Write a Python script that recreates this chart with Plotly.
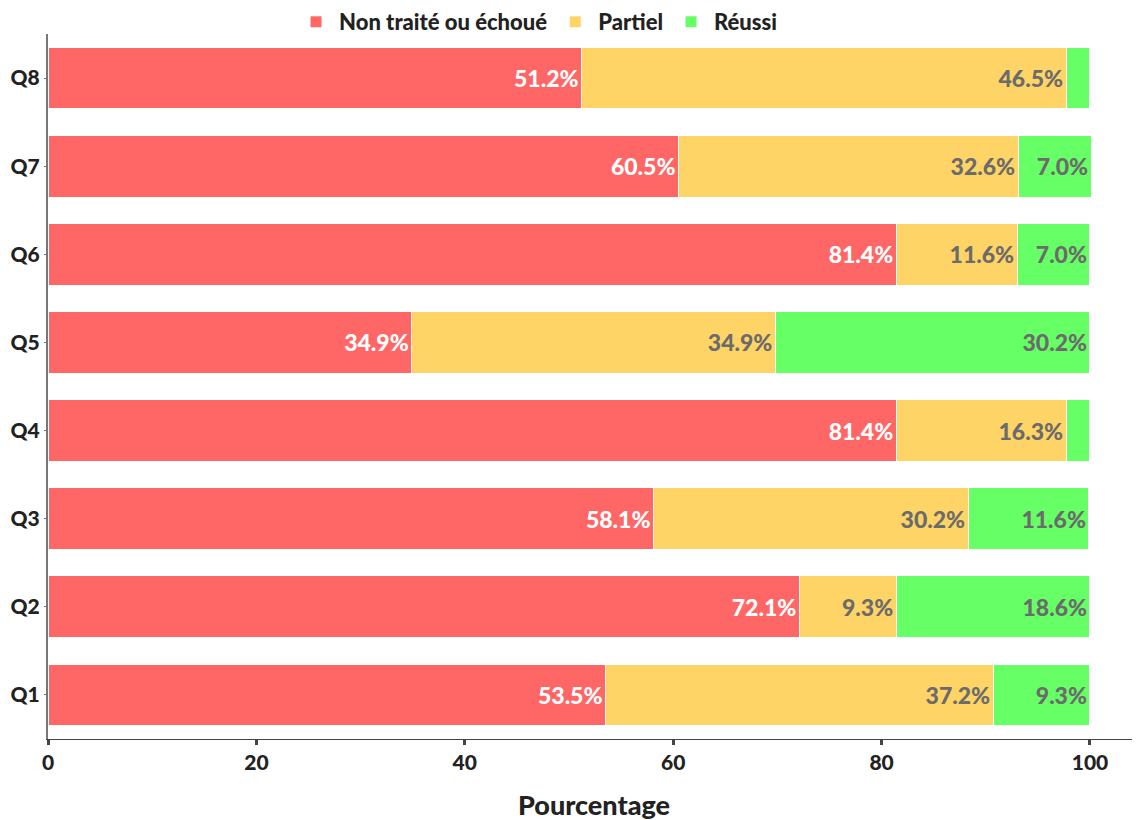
import plotly.graph_objects as go

questions = ["Q1", "Q2", "Q3", "Q4", "Q5", "Q6", "Q7", "Q8"]
non_traite = [53.5, 72.1, 58.1, 81.4, 34.9, 81.4, 60.5, 51.2]
partiel = [37.2, 9.3, 30.2, 16.3, 34.9, 11.6, 32.6, 46.5]
reussi = [9.3, 18.6, 11.6, 2.3, 30.2, 7.0, 7.0, 2.3]

series = [
    ("Non traité ou échoué", non_traite, "#FF6666", "white"),
    ("Partiel", partiel, "#FFD466", "#6b6b6b"),
    ("Réussi", reussi, "#66FF66", "#6b6b6b"),
]

FONT = "Lato"
W = 900
fig = go.Figure()
for name, vals, color, tcolor in series:
    fig.add_trace(go.Bar(
        y=questions, x=vals, name=name, orientation="h",
        marker=dict(color=color, line=dict(color="white", width=1)),
        text=[f"{v:.1f}%" if v >= 5 else "" for v in vals],
        textposition="inside", insidetextanchor="end",
        textfont=dict(color=tcolor, size=23, family=FONT, weight=W),
        textangle=0, cliponaxis=False,
        hoverinfo="skip",
    ))

fig.update_layout(
    barmode="stack", bargap=0.3,
    width=1140, height=820,
    margin=dict(l=40, r=8, t=26, b=89, autoexpand=False),
    plot_bgcolor="white", paper_bgcolor="white",
    uniformtext=dict(minsize=8, mode="show"),
    font=dict(family=FONT, color="#222", size=18, weight=W),
    legend=dict(orientation="h", x=(538 - 8) / 1140, xanchor="center", xref="container",
                y=1 - 14 / 820, yanchor="middle", yref="container",
                bgcolor="rgba(0,0,0,0)",
                font=dict(size=22, family=FONT, weight=W, color="#222"),
                itemwidth=36, traceorder="normal"),
    xaxis=dict(range=[0, 104.8], tickvals=[0, 20, 40, 60, 80, 100], automargin=False,
               showgrid=False, zeroline=False, showline=True, linecolor="#444", linewidth=1,
               ticks="outside", ticklen=5, tickwidth=3, tickcolor="#444",
               tickfont=dict(size=21, family=FONT, weight=W, color="#222"),
               title=dict(text="Pourcentage", font=dict(size=27, family=FONT, weight=W, color="#222"),
                          standoff=22)),
    yaxis=dict(range=[-0.5, 7.5], showgrid=False, zeroline=False, showline=True, automargin=False,
               linecolor="#777", linewidth=2, ticks="outside", ticklen=2, tickcolor="#777",
               tickfont=dict(size=21, family=FONT, weight=W, color="#222")),
)

fig.write_html("out.html")
